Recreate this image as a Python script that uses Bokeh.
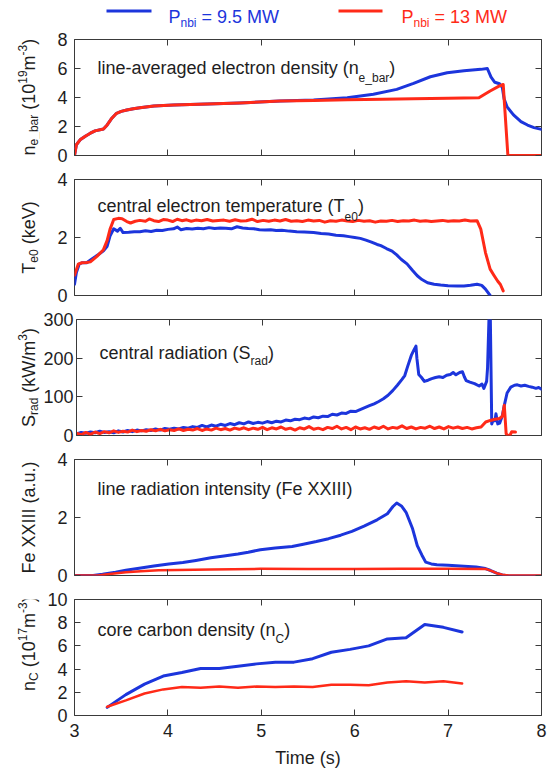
import math
from bokeh.plotting import figure
from bokeh.models import Range1d, LinearAxis, FixedTicker, Label, CustomLabelingPolicy
from bokeh.layouts import column, row
from bokeh.embed import file_html
from bokeh.resources import INLINE

BLUE = "#1c35dc"
RED = "#ff2a18"
TXT = "#1e1e1e"
FRAME = "#3a3a3a"
FONT = "Liberation Sans"

X_TICKS = [3, 4, 5, 6, 7, 8]

# ---------------- panel 1: line-averaged electron density ----------------
ne_blue_t = [3.00, 3.02, 3.06, 3.12, 3.17, 3.22, 3.31, 3.35, 3.40, 3.45, 3.50, 3.56, 3.63, 3.70,
             3.85, 4.06, 4.42, 4.77, 5.20, 5.56, 5.92, 6.20, 6.45, 6.63, 6.81, 6.99, 7.17, 7.35,
             7.42, 7.46, 7.50, 7.55, 7.58, 7.60, 7.63, 7.70, 7.78, 7.85, 7.92, 8.00]
ne_blue = [0.0, 0.74, 1.08, 1.35, 1.54, 1.70, 1.83, 2.11, 2.57, 2.91, 3.04, 3.14, 3.23, 3.30,
           3.42, 3.48, 3.55, 3.62, 3.76, 3.83, 3.99, 4.22, 4.56, 4.98, 5.43, 5.71, 5.85, 5.94,
           6.00, 5.40, 5.05, 4.95, 4.70, 3.90, 3.37, 2.80, 2.34, 2.10, 1.92, 1.80]
ne_red_t = [3.00, 3.02, 3.06, 3.12, 3.17, 3.22, 3.31, 3.35, 3.40, 3.45, 3.50, 3.56, 3.63, 3.70,
            3.85, 4.06, 4.42, 4.77, 5.20, 5.56, 5.92, 6.30, 6.63, 7.00, 7.33, 7.45, 7.55, 7.59,
            7.64, 7.70, 8.00]
ne_red = [0.0, 0.74, 1.08, 1.35, 1.54, 1.70, 1.83, 2.11, 2.57, 2.91, 3.04, 3.14, 3.23, 3.30,
          3.42, 3.48, 3.55, 3.62, 3.76, 3.80, 3.85, 3.88, 3.92, 3.95, 3.98, 4.45, 4.80, 4.90,
          0.0, 0.0, 0.0]

# ---------------- panel 2: central electron temperature ----------------
te_blue_t = [3.00, 3.02, 3.05, 3.08, 3.13, 3.19, 3.26, 3.31, 3.35, 3.38, 3.42, 3.46, 3.49, 3.52,
             3.58, 3.64, 3.70, 3.76, 3.82, 3.88, 3.94, 4.00, 4.06, 4.10, 4.14, 4.20, 4.26, 4.32,
             4.38, 4.44, 4.50, 4.56, 4.62, 4.68, 4.74, 4.80, 4.86, 4.92, 4.98, 5.04, 5.10, 5.16,
             5.22, 5.30, 5.38, 5.46, 5.56, 5.64, 5.72, 5.80, 5.88, 5.94, 6.00, 6.06, 6.12, 6.18,
             6.24, 6.28, 6.34, 6.40, 6.45, 6.50, 6.56, 6.62, 6.67, 6.72, 6.78, 6.85, 6.92, 7.00,
             7.10, 7.17, 7.24, 7.31, 7.36, 7.40, 7.45]
te_blue = [0.39, 0.79, 1.08, 1.13, 1.13, 1.27, 1.42, 1.54, 1.70, 2.05, 2.30, 2.22, 2.32, 2.17,
           2.18, 2.20, 2.20, 2.23, 2.21, 2.25, 2.24, 2.28, 2.30, 2.36, 2.27, 2.31, 2.29, 2.32,
           2.30, 2.34, 2.31, 2.33, 2.32, 2.30, 2.37, 2.33, 2.31, 2.30, 2.27, 2.26, 2.27, 2.24,
           2.25, 2.22, 2.20, 2.19, 2.17, 2.14, 2.12, 2.08, 2.06, 2.03, 2.00, 1.97, 1.91, 1.84,
           1.76, 1.72, 1.62, 1.53, 1.40, 1.24, 1.09, 0.86, 0.68, 0.55, 0.44, 0.39, 0.36, 0.34,
           0.33, 0.33, 0.35, 0.39, 0.35, 0.22, 0.00]
te_red_t = [3.00, 3.04, 3.08, 3.13, 3.17, 3.24, 3.31, 3.35, 3.38, 3.42, 3.47, 3.51, 3.56, 3.60,
            3.65, 3.70, 3.76, 3.80, 3.85, 3.90, 3.95, 4.00, 4.05, 4.10, 4.15, 4.20, 4.25, 4.30,
            4.36, 4.42, 4.48, 4.54, 4.60, 4.66, 4.72, 4.78, 4.84, 4.90, 4.96, 5.02, 5.08, 5.14,
            5.20, 5.26, 5.32, 5.38, 5.44, 5.50, 5.56, 5.62, 5.68, 5.74, 5.80, 5.86, 5.92, 5.98,
            6.04, 6.10, 6.16, 6.22, 6.28, 6.34, 6.40, 6.46, 6.52, 6.58, 6.64, 6.70, 6.76, 6.82,
            6.88, 6.94, 7.00, 7.06, 7.12, 7.18, 7.24, 7.31, 7.35, 7.40, 7.45, 7.49, 7.53, 7.56,
            7.59]
te_red = [0.70, 1.08, 1.13, 1.14, 1.16, 1.35, 1.58, 1.90, 2.28, 2.62, 2.66, 2.65, 2.55, 2.50,
          2.56, 2.59, 2.56, 2.64, 2.58, 2.55, 2.62, 2.60, 2.55, 2.63, 2.58, 2.61, 2.56, 2.60,
          2.58, 2.62, 2.57, 2.59, 2.60, 2.56, 2.61, 2.57, 2.58, 2.63, 2.55, 2.59, 2.56, 2.60,
          2.57, 2.62, 2.56, 2.58, 2.55, 2.60, 2.57, 2.59, 2.53, 2.58, 2.56, 2.60, 2.57, 2.55,
          2.59, 2.56, 2.58, 2.53, 2.57, 2.56, 2.59, 2.55, 2.58, 2.57, 2.60, 2.56, 2.58, 2.55,
          2.57, 2.59, 2.56, 2.58, 2.57, 2.60, 2.57, 2.58, 2.29, 1.48, 0.91, 0.70, 0.50, 0.38,
          0.16]

# ---------------- panel 3: central radiation ----------------
srad_blue_t = [3.00, 3.05, 3.10, 3.15, 3.20, 3.25, 3.30, 3.35, 3.40, 3.45, 3.50, 3.55, 3.60, 3.65,
               3.70, 3.75, 3.80, 3.85, 3.90, 3.95, 4.00, 4.05, 4.10, 4.15, 4.20, 4.25, 4.30, 4.35,
               4.40, 4.45, 4.50, 4.55, 4.60, 4.65, 4.70, 4.75, 4.80, 4.85, 4.90, 4.95, 5.00, 5.05,
               5.10, 5.15, 5.20, 5.25, 5.30, 5.35, 5.40, 5.45, 5.50, 5.55, 5.60, 5.65, 5.70, 5.75,
               5.80, 5.85, 5.90, 5.95, 6.00, 6.05, 6.10, 6.15, 6.20, 6.25, 6.30, 6.35, 6.40, 6.45,
               6.50, 6.53, 6.56, 6.60, 6.63, 6.65, 6.66, 6.68, 6.71, 6.74, 6.78, 6.82, 6.86, 6.90,
               6.94, 6.98, 7.02, 7.05, 7.08, 7.12, 7.15, 7.17, 7.19, 7.23, 7.28, 7.33, 7.36, 7.38,
               7.41, 7.42, 7.435, 7.45, 7.465, 7.48, 7.50, 7.51, 7.53, 7.55, 7.58, 7.60, 7.63, 7.67,
               7.71, 7.74, 7.78, 7.82, 7.86, 7.90, 7.94, 7.97, 8.00]
srad_blue = [4, 8, 6, 9, 7, 11, 8, 10, 7, 12, 9, 13, 10, 14,
             12, 15, 13, 17, 14, 18, 16, 19, 17, 21, 19, 23, 21, 26,
             22, 27, 24, 29, 26, 31, 28, 33, 30, 35, 31, 34, 32, 36,
             33, 37, 35, 40, 38, 42, 41, 45, 43, 48, 46, 50, 49, 55,
             53, 58, 57, 63, 62, 67, 72, 77, 82, 88, 95, 104, 116, 130,
             145, 155, 178, 207, 222, 231, 200, 158, 150, 140, 143, 147, 150, 152,
             150, 156, 158, 163, 157, 163, 165, 152, 142, 138, 134, 128, 133, 122,
             140, 175, 300, 300, 30, 40, 38, 56, 30, 32, 52, 78, 110, 125,
             130, 131, 128, 130, 127, 125, 122, 124, 120]
srad_red_t = [3.00, 3.05, 3.10, 3.15, 3.20, 3.25, 3.30, 3.35, 3.40, 3.45, 3.50, 3.55, 3.60, 3.65,
              3.70, 3.75, 3.80, 3.85, 3.90, 3.95, 4.00, 4.05, 4.10, 4.15, 4.20, 4.25, 4.30, 4.35,
              4.40, 4.45, 4.50, 4.55, 4.60, 4.65, 4.70, 4.75, 4.80, 4.85, 4.90, 4.95, 5.00, 5.05,
              5.10, 5.15, 5.20, 5.25, 5.30, 5.35, 5.40, 5.45, 5.50, 5.55, 5.60, 5.65, 5.70, 5.75,
              5.80, 5.85, 5.90, 5.95, 6.00, 6.05, 6.10, 6.15, 6.20, 6.25, 6.30, 6.35, 6.40, 6.45,
              6.50, 6.55, 6.60, 6.65, 6.70, 6.75, 6.80, 6.85, 6.90, 6.95, 7.00, 7.05, 7.10, 7.15,
              7.20, 7.25, 7.30, 7.35, 7.40, 7.45, 7.50, 7.55, 7.58, 7.60, 7.62, 7.64, 7.66, 7.68,
              7.72]
srad_red = [6, 2, 8, 3, 9, 5, 10, 7, 12, 8, 11, 9, 14, 10,
            13, 11, 15, 12, 16, 12, 15, 13, 17, 13, 16, 14, 18, 13,
            17, 14, 19, 15, 18, 14, 19, 16, 20, 15, 19, 16, 21, 15,
            20, 17, 22, 16, 19, 14, 20, 17, 23, 16, 19, 15, 21, 18,
            24, 17, 21, 15, 22, 17, 20, 16, 22, 18, 24, 17, 21, 19,
            25, 18, 22, 17, 21, 19, 24, 18, 22, 17, 23, 19, 22, 18,
            21, 17, 20, 22, 35, 39, 42, 44, 50, 78, 4, 0, 0, 10,
            9]

# ---------------- panel 4: line radiation intensity (Fe XXIII) ----------------
fe_blue_t = [3.00, 3.20, 3.30, 3.44, 3.55, 3.71, 3.85, 4.01, 4.16, 4.30, 4.46, 4.60, 4.75, 4.86,
             4.99, 5.15, 5.33, 5.45, 5.59, 5.72, 5.85, 5.97, 6.10, 6.24, 6.35, 6.41, 6.45, 6.50,
             6.55, 6.62, 6.67, 6.72, 6.76, 6.82, 6.88, 7.00, 7.17, 7.30, 7.40, 7.45, 7.52, 7.58,
             7.65, 7.80, 8.00]
fe_blue = [0.0, 0.0, 0.04, 0.11, 0.18, 0.26, 0.33, 0.40, 0.45, 0.52, 0.61, 0.67, 0.74, 0.80,
           0.89, 0.95, 1.00, 1.08, 1.17, 1.27, 1.39, 1.52, 1.70, 1.92, 2.13, 2.38, 2.50, 2.40,
           2.18, 1.61, 1.03, 0.70, 0.46, 0.40, 0.37, 0.35, 0.32, 0.29, 0.24, 0.18, 0.08, 0.02,
           -0.02, -0.02, -0.02]
fe_red_t = [3.00, 3.25, 3.40, 3.55, 3.71, 3.90, 4.10, 4.46, 4.99, 5.50, 6.00, 6.50, 7.00, 7.41,
            7.47, 7.52, 7.58, 7.65, 8.00]
fe_red = [0.0, 0.0, 0.06, 0.11, 0.15, 0.18, 0.19, 0.21, 0.23, 0.22, 0.22, 0.23, 0.23, 0.22,
          0.15, 0.08, 0.03, 0.0, 0.0]

# ---------------- panel 5: core carbon density ----------------
nc_t = [3.35, 3.55, 3.75, 3.95, 4.15, 4.35, 4.55, 4.75, 4.95, 5.15, 5.35, 5.55, 5.75, 5.95,
        6.15, 6.35, 6.55, 6.75, 6.95, 7.15]
nc_blue = [0.7, 1.8, 2.7, 3.4, 3.7, 4.05, 4.05, 4.25, 4.45, 4.6, 4.6, 4.9, 5.45, 5.7,
           6.0, 6.6, 6.7, 7.85, 7.6, 7.2]
nc_red = [0.75, 1.3, 1.9, 2.25, 2.45, 2.4, 2.5, 2.4, 2.5, 2.45, 2.5, 2.45, 2.65, 2.65,
          2.6, 2.85, 2.95, 2.85, 2.95, 2.75]

LEGEND_LABELS = ["9.5 MW", "13 MW"]

# Arial / Liberation Sans advance widths (per 1000 em)
W = {" ": 278, "(": 333, ")": 333, "-": 333, ".": 278, "/": 278, "=": 584, "_": 556,
     "C": 722, "F": 611, "I": 278, "M": 833, "P": 667, "S": 667, "T": 611, "V": 667, "W": 944,
     "X": 667, "a": 556, "b": 556, "c": 500, "d": 556, "e": 556, "g": 556, "h": 556, "i": 222,
     "k": 500, "l": 222, "m": 833, "n": 556, "o": 556, "p": 556, "r": 333, "s": 500, "t": 278,
     "u": 556, "v": 500, "y": 500}

FIG_W = 550
STRIP_W = 40
LEFT_BORDER = 34
RIGHT_BORDER = 9
FRAME_H = 116
LEG_H = 28
FRAME1_TOP = 39


def tw(s, size):
    return sum(W.get(c, 556) for c in s) / 1000.0 * size


def rich(p, x, y, parts, xo, yo, vertical=False, color=TXT, sub=5, sup=6, big=18, small=12):
    pos = 0.0
    for txt, kind in parts:
        size = big if kind == "n" else small
        shift = {"n": 0, "sub": -sub, "sup": sup}[kind]
        body = txt.lstrip(" ")
        pos += tw(txt[:len(txt) - len(body)], size)
        if vertical:
            lx, ly, ang = xo - shift, yo + pos, math.pi / 2
        else:
            lx, ly, ang = xo + pos, yo + shift, 0
        p.add_layout(Label(x=x, y=y, x_offset=lx, y_offset=ly, text=body, text_font=FONT,
                           text_font_size=f"{size}px", text_color=color, text_align="left",
                           text_baseline="alphabetic", angle=ang, angle_units="rad"))
        pos += tw(body, size)
    return pos


HIDE_CODE = """
for (let i = 0; i < indices.size; i++) { indices.unset(i) }
return indices
"""


def style_axis(ax, ticks, labels=True, standoff=7):
    ax.ticker = FixedTicker(ticks=ticks)
    ax.major_tick_in = 6
    ax.major_tick_out = 0
    ax.minor_tick_in = 0
    ax.minor_tick_out = 0
    ax.major_tick_line_color = FRAME
    ax.major_tick_line_width = 1
    ax.axis_line_color = None
    ax.major_label_text_font = FONT
    ax.major_label_text_color = TXT
    ax.major_label_text_font_size = "18px"
    ax.major_label_standoff = standoff
    if not labels:
        ax.major_label_text_font_size = "0px"
        ax.major_label_standoff = 0
        ax.major_label_policy = CustomLabelingPolicy(code=HIDE_CODE)


def blank_fig(w, h):
    f = figure(width=w, height=h, x_range=Range1d(0, w), y_range=Range1d(0, h),
               output_backend="svg", toolbar_location=None, min_border=0,
               x_axis_location=None, y_axis_location=None)
    f.grid.visible = False
    f.outline_line_color = None
    return f


def make_panel(yr, yticks, height, top, bottom, standoff, title_parts, title_dy, sub_drop,
               ylabel_parts, last=False):
    p = figure(width=FIG_W - STRIP_W, height=height, x_range=Range1d(3, 8),
               y_range=Range1d(*yr), output_backend="svg", toolbar_location=None,
               min_border_left=LEFT_BORDER, min_border_right=RIGHT_BORDER, min_border_top=top,
               min_border_bottom=bottom)
    p.grid.visible = False
    p.outline_line_color = FRAME
    p.outline_line_width = 1
    bottom_ax = p.xaxis[0]
    style_axis(bottom_ax, X_TICKS, labels=last, standoff=8)
    style_axis(p.yaxis[0], yticks, labels=True, standoff=standoff)
    top_ax = LinearAxis()
    right_ax = LinearAxis()
    style_axis(top_ax, X_TICKS, labels=False)
    style_axis(right_ax, yticks, labels=False)
    p.add_layout(top_ax, "above")
    p.add_layout(right_ax, "right")
    if last:
        bottom_ax.axis_label = "Time (s)"
        bottom_ax.axis_label_text_font = FONT
        bottom_ax.axis_label_text_font_size = "18px"
        bottom_ax.axis_label_text_font_style = "normal"
        bottom_ax.axis_label_text_color = TXT
        bottom_ax.axis_label_standoff = 8
    # title inside the frame
    rich(p, 3, yr[1], title_parts, 23, -title_dy, sub=sub_drop)
    # rotated y label in a strip to the left
    strip = blank_fig(STRIP_W, height)
    total = sum(tw(t, 18 if k == "n" else 12) for t, k in ylabel_parts)
    center = bottom + FRAME_H / 2.0
    rich(strip, 28, center, ylabel_parts, 0, -total / 2.0, vertical=True, sub=5, sup=6)
    return p, row(strip, p, spacing=0)


def draw(p, t, v, color, width=3):
    p.line(t, v, line_color=color, line_width=width, line_join="round", line_cap="round")


# legend strip (coordinates of this strip are pixels)
leg = blank_fig(FIG_W, LEG_H)
LEG_SWATCH_X = [(106, 151), (338, 382)]
LEG_TEXT_X = [168, 401]
for (x0, x1), tx, lab, col in zip(LEG_SWATCH_X, LEG_TEXT_X, LEGEND_LABELS, [BLUE, RED]):
    leg.line([x0, x1], [LEG_H - 10.5, LEG_H - 10.5], line_color=col, line_width=3)
    rich(leg, tx, LEG_H - 16.5, [("P", "n"), ("nbi", "sub"), (" = " + lab, "n")], 0, 0,
         color=col, sub=5.5)

p1_top = FRAME1_TOP - LEG_H
p1, r1 = make_panel((0, 8), [0, 2, 4, 6, 8], p1_top + FRAME_H + 12, p1_top, 12, 7,
                    [("line-averaged electron density (n", "n"), ("e_bar", "sub"), (")", "n")],
                    28.4, 10,
                    [("n", "n"), ("e_bar", "sub"), (" (10", "n"), ("19", "sup"), ("m", "n"),
                     ("-3", "sup"), (")", "n")])
draw(p1, ne_blue_t, ne_blue, BLUE)
draw(p1, ne_red_t, ne_red, RED)

p2, r2 = make_panel((0, 4), [0, 2, 4], 140, 12, 12, 7,
                    [("central electron temperature (T", "n"), ("e0", "sub"), (")", "n")],
                    26.7, 10,
                    [("T", "n"), ("e0", "sub"), (" (keV)", "n")])
draw(p2, te_blue_t, te_blue, BLUE)
draw(p2, te_red_t, te_red, RED)

p3, r3 = make_panel((0, 300), [0, 100, 200, 300], 140, 12, 12, 3,
                    [("central radiation (S", "n"), ("rad", "sub"), (")", "n")], 33.3, 8,
                    [("S", "n"), ("rad", "sub"), (" (kW/m", "n"), ("3", "sup"), (")", "n")])
draw(p3, srad_blue_t, srad_blue, BLUE)
draw(p3, srad_red_t, srad_red, RED)

p4, r4 = make_panel((0, 4), [0, 2, 4], 140, 12, 12, 7,
                    [("line radiation intensity (Fe XXIII)", "n")], 29.3, 8,
                    [("Fe XXIII (a.u.)", "n")])
draw(p4, fe_blue_t, fe_blue, BLUE)
draw(p4, fe_red_t, fe_red, RED, width=2.5)

p5, r5 = make_panel((0, 10), [0, 2, 4, 6, 8, 10], 184, 12, 56, 7,
                    [("core carbon density (n", "n"), ("C", "sub"), (")", "n")], 30, 9,
                    [("n", "n"), ("C", "sub"), (" (10", "n"), ("17", "sup"), ("m", "n"),
                     ("-3", "sup"), (")", "n")], last=True)
draw(p5, nc_t, nc_blue, BLUE)
draw(p5, nc_t, nc_red, RED, width=2.5)

layout = column(leg, r1, r2, r3, r4, r5, spacing=0)

open("out.html", "w").write(file_html(layout, INLINE))
